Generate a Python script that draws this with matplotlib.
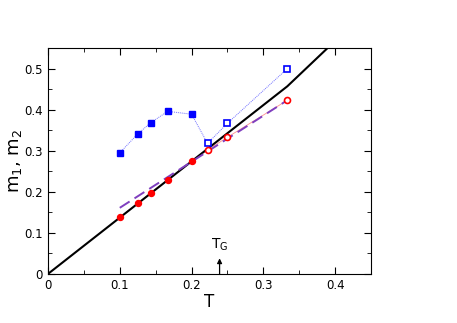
import matplotlib
matplotlib.use("Agg")
import matplotlib.pyplot as plt
from matplotlib.ticker import MultipleLocator, FuncFormatter

# temperatures
T = [1/10, 1/8, 1/7, 1/6, 1/5, 2/9, 1/4, 1/3]
n_filled = 5  # first five points are filled markers, the rest open

m1 = [0.295, 0.341, 0.368, 0.396, 0.389, 0.318, 0.367, 0.500]
m2 = [0.138, 0.172, 0.197, 0.229, 0.274, 0.302, 0.333, 0.423]

fit_T = [0.1, 1/3]
fit_m = [0.161, 0.423]

line_T = [0.0, 1/3, 0.42]
line_m = [0.0, 0.457, 0.601]

T_G = 0.239


def fmt(v, pos):
    return "0" if abs(v) < 1e-9 else f"{v:.1f}"


fig = plt.figure(figsize=(4.57, 3.23), dpi=100)
ax = fig.add_axes([0.105, 0.152, 0.707, 0.699])

ax.plot(line_T, line_m, color="black", lw=1.5, zorder=2)
ax.plot(fit_T, fit_m, color="#7f3fbf", lw=1.4, dashes=(6, 3), zorder=3)

ax.plot(T, m1, color="#7070ff", lw=0.7, ls=(0, (1, 1)), zorder=1)
ax.plot(T[:n_filled], m1[:n_filled], "s", color="blue", ms=4, ls="none", zorder=4)
ax.plot(T[n_filled:], m1[n_filled:], "s", mfc="white", mec="blue", mew=1.2,
        ms=4, ls="none", zorder=4)

ax.plot(T, m2, color="#ff9090", lw=0.6, zorder=1)
ax.plot(T[:n_filled], m2[:n_filled], "o", color="red", ms=4.3, ls="none", zorder=4)
ax.plot(T[n_filled:], m2[n_filled:], "o", mfc="white", mec="red", mew=1.2,
        ms=4.3, ls="none", zorder=4)

ax.annotate("", xy=(T_G, 0.038), xytext=(T_G, 0.0),
            arrowprops=dict(arrowstyle="-|>", color="black", lw=0.9,
                            mutation_scale=7, shrinkA=0, shrinkB=0))
ax.text(T_G, 0.05, r"T$_\mathrm{G}$", ha="center", va="bottom", fontsize=10)

ax.set_xlim(0, 0.45)
ax.set_ylim(0, 0.55)
ax.xaxis.set_major_locator(MultipleLocator(0.1))
ax.xaxis.set_minor_locator(MultipleLocator(0.05))
ax.yaxis.set_major_locator(MultipleLocator(0.1))
ax.yaxis.set_minor_locator(MultipleLocator(0.05))
ax.xaxis.set_major_formatter(FuncFormatter(fmt))
ax.yaxis.set_major_formatter(FuncFormatter(fmt))
ax.tick_params(which="both", direction="in", top=True, right=True, labelsize=8.5)
ax.tick_params(which="major", length=5)
ax.tick_params(which="minor", length=3)

ax.set_xlabel("T", fontsize=12, labelpad=1)
ax.set_ylabel(r"m$_1$, m$_2$", fontsize=13, labelpad=0)

fig.savefig("out.png", dpi=100)
